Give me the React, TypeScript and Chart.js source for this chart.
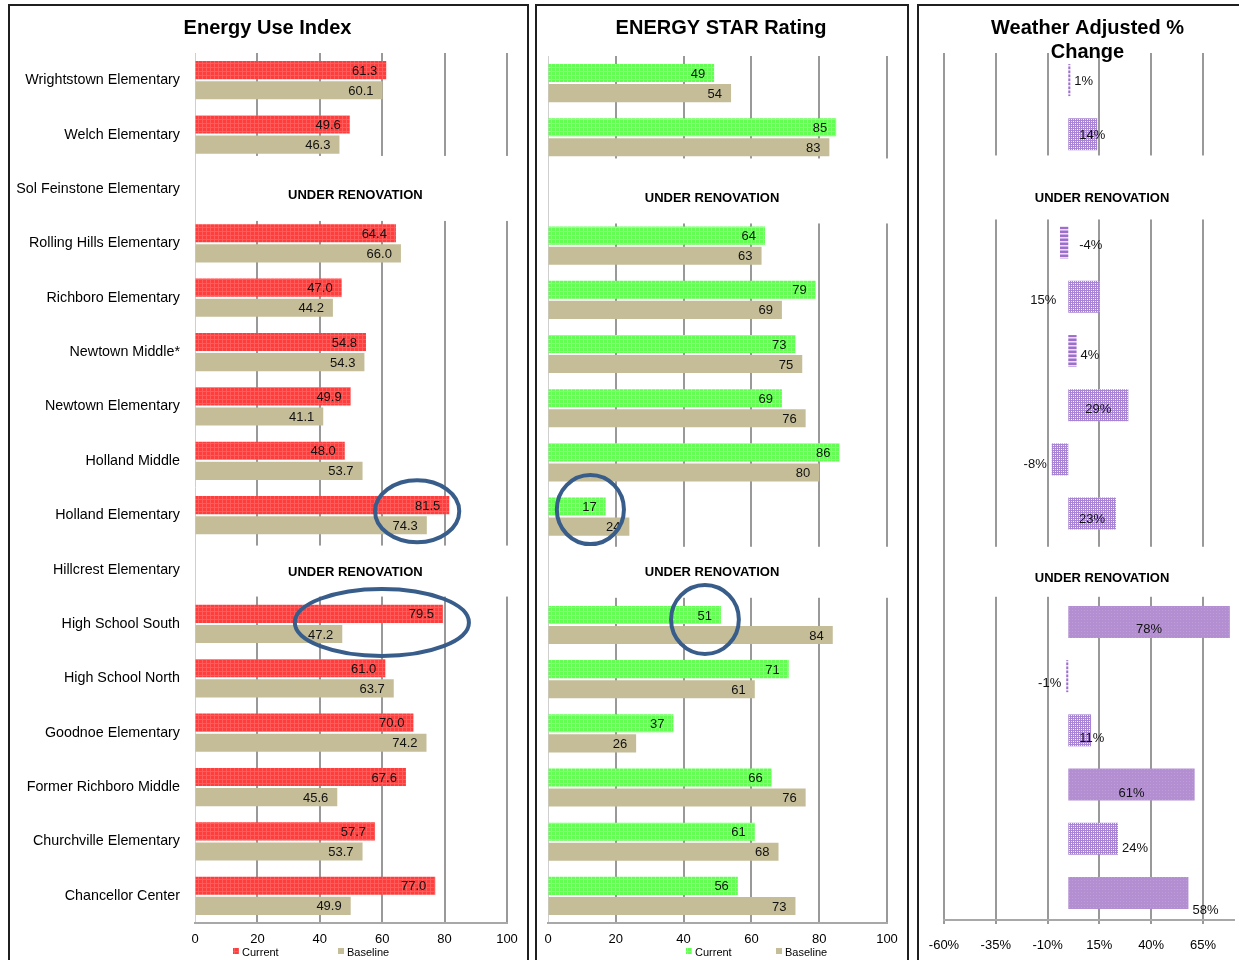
import React, { useEffect, useRef } from 'react';
import { Chart, registerables } from 'chart.js';

Chart.register(...registerables);

const FONT = "'Liberation Sans', Arial, Helvetica, sans-serif";

type Val = number | null;

// ---------- data ----------
const schools = [
  'Wrightstown Elementary',
  'Welch Elementary',
  'Sol Feinstone Elementary',
  'Rolling Hills Elementary',
  'Richboro Elementary',
  'Newtown Middle*',
  'Newtown Elementary',
  'Holland Middle',
  'Holland Elementary',
  'Hillcrest Elementary',
  'High School South',
  'High School North',
  'Goodnoe Elementary',
  'Former Richboro Middle',
  'Churchville Elementary',
  'Chancellor Center',
];

const seriesNames = ['Current', 'Baseline'];

const euiCurrent: Val[] = [61.3, 49.6, null, 64.4, 47.0, 54.8, 49.9, 48.0, 81.5, null, 79.5, 61.0, 70.0, 67.6, 57.7, 77.0];
const euiBaseline: Val[] = [60.1, 46.3, null, 66.0, 44.2, 54.3, 41.1, 53.7, 74.3, null, 47.2, 63.7, 74.2, 45.6, 53.7, 49.9];

const starCurrent: Val[] = [49, 85, null, 64, 79, 73, 69, 86, 17, null, 51, 71, 37, 66, 61, 56];
const starBaseline: Val[] = [54, 83, null, 63, 69, 75, 76, 80, 24, null, 84, 61, 26, 76, 68, 73];

const weatherChange: Val[] = [1, 14, null, -4, 15, 4, 29, -8, 23, null, 78, -1, 11, 61, 24, 58];

const renovating = ['Sol Feinstone Elementary', 'Hillcrest Elementary'];

const scoreTicks = [0, 20, 40, 60, 80, 100];
const weatherTicks = [-60, -35, -10, 15, 40, 65];

// label placement / fill style for the weather panel (styles, not data)
const weatherLabelSpot = ['end', 'baseRight', '', 'baseRight', 'baseLeft', 'end', 'center', 'end', 'center', '', 'center', 'end', 'baseRight', 'center', 'end', 'endLow'];
const weatherFillKind = ['stripe', 'check', '', 'stripe', 'check', 'stripe', 'check', 'check', 'check', '', 'solid', 'stripe', 'check', 'solid', 'check', 'solid'];

// circled highlights (value-space centre, half-width in value units, half-height px)
type Ring = { school: string; value: number; halfSpan: number; ry: number; dy: number };
const euiRings: Ring[] = [
  { school: 'Holland Elementary', value: 71.2, halfSpan: 13.5, ry: 31, dy: -4 },
  { school: 'High School South', value: 59.9, halfSpan: 27.9, ry: 33.5, dy: -1.5 },
];
const starRings: Ring[] = [
  { school: 'Holland Elementary', value: 12.5, halfSpan: 9.9, ry: 34.5, dy: -7 },
  { school: 'High School South', value: 46.3, halfSpan: 10.0, ry: 34.5, dy: -5.5 },
];

// ---------- fills ----------
function tile(size: number, paint: (g: CanvasRenderingContext2D) => void): CanvasPattern | string {
  const c = document.createElement('canvas');
  c.width = size;
  c.height = size;
  const g = c.getContext('2d');
  if (!g) return '#999';
  paint(g);
  return g.createPattern(c, 'repeat') || '#999';
}

function makeFills() {
  const red = tile(4, (g) => {
    g.fillStyle = '#FF3D3D';
    g.fillRect(0, 0, 4, 4);
    g.fillStyle = '#FF5C5C';
    g.fillRect(0, 0, 4, 1);
    g.fillRect(0, 0, 1, 4);
  });
  const green = tile(4, (g) => {
    g.fillStyle = '#62FF52';
    g.fillRect(0, 0, 4, 4);
    g.fillStyle = '#94FF88';
    g.fillRect(0, 0, 4, 1);
    g.fillRect(0, 0, 1, 4);
  });
  const check = tile(4, (g) => {
    g.fillStyle = '#A983D6';
    g.fillRect(0, 0, 4, 4);
    g.fillStyle = '#FFFFFF';
    g.fillRect(0, 0, 1, 1);
    g.fillRect(2, 2, 1, 1);
    g.fillStyle = '#E8DCF4';
    g.fillRect(2, 0, 1, 1);
    g.fillRect(0, 2, 1, 1);
  });
  const stripe = tile(4, (g) => {
    g.fillStyle = '#9D6ECE';
    g.fillRect(0, 0, 4, 4);
    g.fillStyle = '#EADFF5';
    g.fillRect(0, 2, 4, 1);
    g.fillStyle = '#C7ADE3';
    g.fillRect(0, 3, 4, 1);
  });
  const solid = tile(3, (g) => {
    g.fillStyle = '#B38FD2';
    g.fillRect(0, 0, 3, 3);
    g.fillStyle = '#BE9DD9';
    g.fillRect(0, 0, 1, 1);
  });
  return { red, green, check, stripe, solid, tan: '#C4BD97' };
}

// ---------- decoration plugin ----------
type NoteSpec = { above: number; below: number; dy: number };
type DecorOpts = {
  notes: NoteSpec[];
  noteValue: number;
  drawLabels: (chart: any, ctx: CanvasRenderingContext2D) => void;
  rings: Ring[];
  legend?: { fills: any[]; offsets: number[] };
};

function decorPlugin(o: DecorOpts) {
  return {
    id: 'decor',
    afterDatasetsDraw(chart: any) {
      const ctx: CanvasRenderingContext2D = chart.ctx;
      const xs = chart.scales.x;
      const ys = chart.scales.y;
      const area = chart.chartArea;
      ctx.save();
      renovating.forEach((name, k) => {
        const i = schools.indexOf(name);
        const cy = ys.getPixelForValue(i);
        const n = o.notes[k];
        ctx.fillStyle = '#ffffff';
        ctx.fillRect(area.left + 2, cy - n.above, area.right - area.left + 6, n.above + n.below);
        ctx.fillStyle = '#000000';
        ctx.font = `bold 13px ${FONT}`;
        ctx.textAlign = 'center';
        ctx.textBaseline = 'middle';
        ctx.fillText('UNDER RENOVATION', xs.getPixelForValue(o.noteValue), cy + n.dy);
      });
      o.drawLabels(chart, ctx);
      ctx.restore();
    },
    afterDraw(chart: any) {
      const ctx: CanvasRenderingContext2D = chart.ctx;
      const xs = chart.scales.x;
      const ys = chart.scales.y;
      const area = chart.chartArea;
      ctx.save();
      o.rings.forEach((r) => {
        const i = schools.indexOf(r.school);
        const cx = xs.getPixelForValue(r.value);
        const rx = Math.abs(xs.getPixelForValue(r.value + r.halfSpan) - cx);
        const cy = ys.getPixelForValue(i) + r.dy;
        ctx.beginPath();
        ctx.ellipse(cx, cy, rx, r.ry, 0, 0, Math.PI * 2);
        ctx.strokeStyle = '#385D8A';
        ctx.lineWidth = 4;
        ctx.stroke();
      });
      if (o.legend) {
        const ly = area.bottom + 28;
        o.legend.offsets.forEach((off, k) => {
          const x0 = area.left + off;
          ctx.fillStyle = o.legend!.fills[k];
          ctx.fillRect(x0, ly - 3, 6, 6);
          ctx.fillStyle = '#000000';
          ctx.font = `11px ${FONT}`;
          ctx.textAlign = 'left';
          ctx.textBaseline = 'middle';
          ctx.fillText(seriesNames[k], x0 + 9, ly + 2);
        });
      }
      ctx.restore();
    },
  };
}

// ---------- configs ----------
type PairOpts = {
  title: string;
  current: Val[];
  baseline: Val[];
  currentFill: any;
  tanFill: any;
  yWidth: number;
  showNames: boolean;
  rightPad: number;
  titlePad: { top: number; bottom: number };
  xHeight: number;
  decimals: number;
  notes: NoteSpec[];
  noteValue: number;
  rings: Ring[];
  legendOffsets: number[];
};

function pairConfig(o: PairOpts): any {
  const drawLabels = (chart: any, ctx: CanvasRenderingContext2D) => {
    ctx.font = `13px ${FONT}`;
    ctx.fillStyle = '#111111';
    ctx.textAlign = 'right';
    ctx.textBaseline = 'middle';
    chart.data.datasets.forEach((ds: any, di: number) => {
      const meta = chart.getDatasetMeta(di);
      meta.data.forEach((bar: any, i: number) => {
        const v = ds.data[i];
        if (v === null || v === undefined) return;
        ctx.fillText(Number(v).toFixed(o.decimals), bar.x - 9, bar.y + 1);
      });
    });
  };
  return {
    type: 'bar',
    data: {
      labels: schools,
      datasets: [
        { label: seriesNames[0], data: o.current, backgroundColor: o.currentFill, borderWidth: 0, categoryPercentage: 0.74, barPercentage: 0.9 },
        { label: seriesNames[1], data: o.baseline, backgroundColor: o.tanFill, borderWidth: 0, categoryPercentage: 0.74, barPercentage: 0.9 },
      ],
    },
    options: {
      indexAxis: 'y',
      responsive: false,
      animation: false,
      devicePixelRatio: 1,
      layout: { padding: 0 },
      events: [],
      plugins: {
        legend: { display: false },
        tooltip: { enabled: false },
        title: {
          display: true,
          text: o.title,
          color: '#000000',
          font: { family: FONT, size: 20, weight: 'bold', lineHeight: 1.2 },
          padding: o.titlePad,
        },
      },
      scales: {
        x: {
          type: 'linear',
          position: 'bottom',
          min: 0,
          max: 100,
          afterBuildTicks: (s: any) => {
            s.ticks = scoreTicks.map((v) => ({ value: v }));
          },
          afterFit: (s: any) => {
            s.height = o.xHeight;
            s.paddingLeft = 0;
            s.paddingRight = o.rightPad;
          },
          grid: {
            color: (c: any) => (c.tick && c.tick.value === 0 ? '#cfcfcf' : '#999999'),
            lineWidth: (c: any) => (c.tick && c.tick.value === 0 ? 1 : 2),
            drawTicks: false,
          },
          border: { display: true, color: '#a8a8a8', width: 2 },
          ticks: { color: '#000000', font: { family: FONT, size: 13 }, padding: 9, maxRotation: 0, autoSkip: false },
        },
        y: {
          type: 'category',
          position: 'left',
          afterFit: (s: any) => {
            s.width = o.yWidth;
          },
          grid: { display: false, drawTicks: false },
          border: { display: false },
          ticks: { display: o.showNames, color: '#000000', font: { family: FONT, size: 14.3 }, padding: 15, autoSkip: false },
        },
      },
    },
    plugins: [
      decorPlugin({
        notes: o.notes,
        noteValue: o.noteValue,
        drawLabels,
        rings: o.rings,
        legend: { fills: [o.currentFill, o.tanFill], offsets: o.legendOffsets },
      }),
    ],
  };
}

function euiConfig() {
  const f = makeFills();
  return pairConfig({
    title: 'Energy Use Index',
    current: euiCurrent,
    baseline: euiBaseline,
    currentFill: f.red,
    tanFill: f.tan,
    yWidth: 185,
    showNames: true,
    rightPad: 18,
    titlePad: { top: 9, bottom: 13 },
    xHeight: 37,
    decimals: 1,
    notes: [
      { above: 33, below: 32, dy: 6 },
      { above: 24, below: 27, dy: 2.5 },
    ],
    noteValue: 51.4,
    rings: euiRings,
    legendOffsets: [38, 143],
  });
}

function starConfig() {
  const f = makeFills();
  return pairConfig({
    title: 'ENERGY STAR Rating',
    current: starCurrent,
    baseline: starBaseline,
    currentFill: f.green,
    tanFill: f.tan,
    yWidth: 13,
    showNames: false,
    rightPad: 20,
    titlePad: { top: 9, bottom: 16 },
    xHeight: 37,
    decimals: 0,
    notes: [
      { above: 33, below: 32, dy: 6.5 },
      { above: 24, below: 27, dy: 1.5 },
    ],
    noteValue: 48.4,
    rings: starRings,
    legendOffsets: [138, 228],
  });
}

function weatherConfig() {
  const f = makeFills();
  const fillFor: Record<string, any> = { check: f.check, stripe: f.stripe, solid: f.solid };
  const colors = weatherFillKind.map((k) => fillFor[k] || 'rgba(0,0,0,0)');
  const drawLabels = (chart: any, ctx: CanvasRenderingContext2D) => {
    ctx.font = `13px ${FONT}`;
    ctx.fillStyle = '#111111';
    ctx.textBaseline = 'middle';
    const meta = chart.getDatasetMeta(0);
    meta.data.forEach((bar: any, i: number) => {
      const v = weatherChange[i];
      if (v === null) return;
      const spot = weatherLabelSpot[i];
      const txt = `${v}%`;
      let x = bar.x;
      const y = bar.y + 1 + i * 0.6 + (spot === 'endLow' ? 8 : 0);
      if (spot === 'center') {
        ctx.textAlign = 'center';
        x = (bar.x + bar.base) / 2;
      } else if (spot === 'baseRight') {
        ctx.textAlign = 'left';
        x = bar.base + 11;
      } else if (spot === 'baseLeft') {
        ctx.textAlign = 'right';
        x = bar.base - 12;
      } else if (v >= 0) {
        ctx.textAlign = 'left';
        x = bar.x + 4;
      } else {
        ctx.textAlign = 'right';
        x = bar.x - 5;
      }
      ctx.fillText(txt, x, y);
    });
  };
  return {
    type: 'bar',
    data: {
      labels: schools,
      datasets: [
        { label: 'Weather Adjusted % Change', data: weatherChange, backgroundColor: colors, borderWidth: 0, categoryPercentage: 1, barPercentage: 0.59 },
      ],
    },
    options: {
      indexAxis: 'y',
      responsive: false,
      animation: false,
      devicePixelRatio: 1,
      layout: { padding: 0 },
      events: [],
      plugins: {
        legend: { display: false },
        tooltip: { enabled: false },
        title: {
          display: true,
          text: ['Weather Adjusted %', 'Change'],
          color: '#000000',
          font: { family: FONT, size: 20, weight: 'bold', lineHeight: 1.2 },
          padding: { top: 9, bottom: -11 },
        },
      },
      scales: {
        x: {
          type: 'linear',
          position: 'bottom',
          min: -60,
          max: 80,
          afterBuildTicks: (s: any) => {
            s.ticks = weatherTicks.map((v) => ({ value: v }));
          },
          afterFit: (s: any) => {
            s.height = 40;
            s.paddingLeft = 0;
            s.paddingRight = 22;
          },
          grid: { color: '#999999', lineWidth: 2, drawTicks: true, tickLength: 4 },
          border: { display: true, color: '#a8a8a8', width: 2 },
          ticks: {
            color: '#000000',
            font: { family: FONT, size: 13 },
            padding: 14,
            maxRotation: 0,
            autoSkip: false,
            callback: (v: any) => `${v}%`,
          },
        },
        y: {
          type: 'category',
          position: 'left',
          afterFit: (s: any) => {
            s.width = 25;
          },
          grid: { display: false, drawTicks: false },
          border: { display: false },
          ticks: { display: false },
        },
      },
    },
    plugins: [
      decorPlugin({
        notes: [
          { above: 33, below: 31, dy: 9.5 },
          { above: 21, below: 29, dy: 11 },
        ],
        noteValue: 16.3,
        drawLabels,
        rings: [],
      }),
    ],
  };
}

// ---------- components ----------
function ChartCanvas(props: { left: number; top: number; width: number; height: number; make: () => any }) {
  const ref = useRef<HTMLCanvasElement>(null);
  useEffect(() => {
    if (!ref.current) return;
    const chart = new Chart(ref.current, props.make());
    return () => chart.destroy();
  }, []);
  return (
    <canvas
      ref={ref}
      width={props.width}
      height={props.height}
      style={{ position: 'absolute', left: props.left, top: props.top, width: props.width, height: props.height, display: 'block' }}
    />
  );
}

const frame: React.CSSProperties = {
  position: 'absolute',
  border: '2px solid #1f1f1f',
  boxSizing: 'border-box',
  pointerEvents: 'none',
};

export default function App() {
  return (
    <div style={{ position: 'fixed', left: 0, top: 0, width: 1239, height: 960, overflow: 'hidden', background: '#ffffff', fontFamily: FONT }}>
      <ChartCanvas left={10} top={7} width={515} height={953} make={euiConfig} />
      <ChartCanvas left={535} top={7} width={372} height={953} make={starConfig} />
      <ChartCanvas left={919} top={7} width={337} height={953} make={weatherConfig} />
      <div style={{ ...frame, left: 8, top: 4, width: 521, height: 1000 }} />
      <div style={{ ...frame, left: 535, top: 4, width: 374, height: 1000 }} />
      <div style={{ ...frame, left: 917, top: 4, width: 400, height: 1000 }} />
    </div>
  );
}
